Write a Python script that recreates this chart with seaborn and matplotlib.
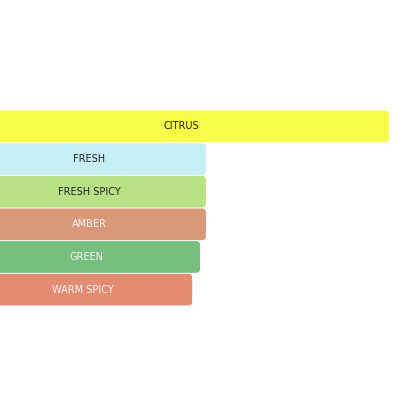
import pandas
import matplotlib
matplotlib.use("Agg")
import matplotlib.pyplot as plt
import seaborn
from matplotlib.patches import FancyBboxPatch

categories = ["CITRUS", "FRESH", "FRESH SPICY", "AMBER", "GREEN", "WARM SPICY"]
values = [100, 56, 56, 56, 54.6, 52.7]
colors = ["#f8fb4a", "#c6eff5", "#b9e286", "#d99877", "#77bf7f", "#e38c72"]
textColors = ["#222222", "#222222", "#222222", "#f5f5f5", "#f5f5f5", "#f5f5f5"]

dataframe = pandas.DataFrame({"accord": categories, "value": values})

seaborn.set_style("white")
plt.rcParams["font.family"] = ["DejaVu Sans"]

fig = plt.figure(figsize=(4.16, 4.16), dpi=100)
ax = fig.add_axes([0, 0, 1, 1])

seaborn.barplot(data=dataframe, x="value", y="accord", hue="accord",
                palette=colors, order=categories, width=0.97, saturation=1,
                legend=False, ax=ax)

# left end of the bars sits just off the canvas
ax.set_xlim(6.5, 106.5)
ax.set_ylim(8.87, -3.87)

# swap plain rectangles for rounded ones
bars = list(ax.patches)
for bar in bars:
    x, y = bar.get_x(), bar.get_y()
    w, h = bar.get_width(), bar.get_height()
    rounded = FancyBboxPatch((x, y), w, h, boxstyle="round,pad=0,rounding_size=0.96",
                             mutation_aspect=0.127, facecolor=bar.get_facecolor(),
                             edgecolor="none")
    bar.remove()
    ax.add_patch(rounded)

for i, (cat, val) in enumerate(zip(categories, values)):
    ax.text(val / 2, i, cat, ha="center", va="center", fontsize=7, color=textColors[i])

ax.axis("off")
fig.savefig("out.png", dpi=100)
